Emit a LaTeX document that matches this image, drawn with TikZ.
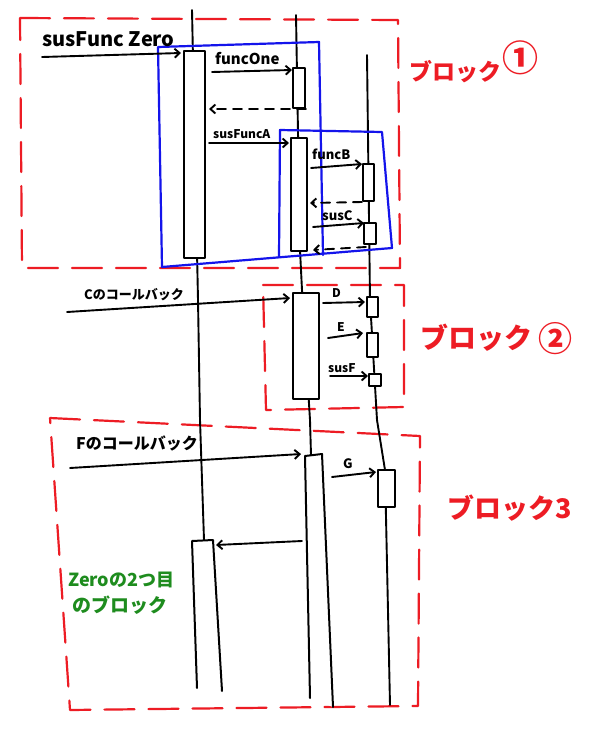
\documentclass[tikz,border=0pt]{standalone}
\usepackage{fontspec}
\setmainfont{Noto Sans CJK JP}
\usetikzlibrary{arrows.meta,calc}
\definecolor{hred}{RGB}{237,28,36}
\definecolor{hblue}{RGB}{20,20,235}
\definecolor{hgreen}{RGB}{30,140,30}
\newcommand{\fs}[1]{\fontsize{#1}{#1}\selectfont\bfseries}
\begin{document}
\begin{tikzpicture}[x=1pt,y=-1pt,
  line join=round, line cap=round,
  life/.style={line width=1.9pt},
  act/.style={draw, line width=2pt, fill=white, inner sep=0pt, anchor=north west},
  msg/.style={line width=1.9pt,-{Straight Barb[length=5pt,width=9pt]}},
  ret/.style={msg, dash pattern=on 9pt off 7pt},
  lbl/.style={anchor=base west, inner sep=0pt},
  blk/.style={hred, line width=2.2pt, dash pattern=on 30pt off 14pt},
  grp/.style={hblue, line width=2.2pt},
  rlbl/.style={hred, anchor=base west, inner sep=0pt},
]
\useasboundingbox (0,0) rectangle (600,734);
\fill[white] (0,0) rectangle (600,734);

% red dashed blocks
\draw[blk] (20,18) -- (398,20) -- (400,268) -- (22,268) -- cycle;
\draw[blk] (263,285) -- (404,285) -- (404,407) -- (266,410) -- cycle;
\draw[blk] (50,418) -- (420,436) -- (418,706) -- (70,710) -- cycle;

% lifelines
\coordinate (l1top) at (192,10);
\coordinate (l2top) at (296,15);
\coordinate (l3top) at (367,55);
\draw[life] (l1top) -- (198,300) -- (200,420) -- (204,540);
\draw[life] (l2top) -- (300,250) -- (302,290) -- (310,420) -- (311,455);
\draw[life] (l3top) -- (370,300) -- (377,420) -- (385,470) -- (390,705);

% activation boxes
\node[act, minimum width=21pt, minimum height=207pt] (zero) at (183,50) {};
\node[act, minimum width=12pt, minimum height=40pt] (one) at (292,67) {};
\node[act, minimum width=16pt, minimum height=113pt] (A) at (290,137) {};
\node[act, minimum width=11pt, minimum height=37pt] (B) at (362,163) {};
\node[act, minimum width=12pt, minimum height=21pt] (C) at (363,222) {};
\node[act, minimum width=26pt, minimum height=106pt] (cb) at (292,292) {};
\node[act, minimum width=11pt, minimum height=20pt] (D) at (366,296) {};
\node[act, minimum width=11pt, minimum height=24pt] (E) at (366,332) {};
\node[act, minimum width=12pt, minimum height=12pt] (F) at (368,373) {};
\node[act, minimum width=17pt, minimum height=37pt] (G) at (377,469) {};

% open-bottom boxes
\coordinate (fbTL) at (305,456);
\coordinate (fbTR) at (322,454);
\coordinate (fbBL) at (310,698);
\coordinate (fbBR) at (333,707);
\fill[white] (fbBL) -- (fbTL) -- (fbTR) -- (fbBR) -- cycle;
\draw[life, line width=2pt] (fbBL) -- (fbTL) -- (fbTR) -- (fbBR);
\coordinate (z2TL) at (192,541);
\coordinate (z2TR) at (213,540);
\coordinate (z2BL) at (197,688);
\coordinate (z2BR) at (222,691);
\fill[white] (z2BL) -- (z2TL) -- (z2TR) -- (z2BR) -- cycle;
\draw[life, line width=2pt] (z2BL) -- (z2TL) -- (z2TR) -- (z2BR);

% blue groups
\draw[grp] (323,255) -- (319,42) -- (158,47) -- (162,267) -- (392,248) -- (382,132) -- (280,130) -- (279,257);

% messages
\coordinate (m0s) at (42,57);
\draw[msg] (m0s) -- ($(zero.north west)+(-2,3)$);
\node[lbl, font=\fs{20}] (t0) at (42,46) {susFunc Zero};

\coordinate (m1s) at (212,72);
\draw[msg] (m1s) -- ($(one.north west)+(0,3)$);
\node[lbl, font=\fs{15}] (t1) at (215,64) {funcOne};
\draw[ret] (one.south east) -- ($(zero.north east)+(3,59)$);

\draw[msg] ($(zero.north east)+(3,93)$) -- ($(A.north west)+(-1,6)$);
\node[lbl, font=\fs{12}] (tA) at (213,138) {susFuncA};

\draw[msg] ($(A.north east)+(3,31)$) -- ($(B.north west)+(0,1)$);
\node[lbl, font=\fs{13}] (tB) at (312,159) {funcB};
\draw[ret] (B.south west) -- ($(A.north east)+(2,66)$);

\draw[msg] ($(A.north east)+(5,90)$) -- ($(C.north west)+(1,1)$);
\node[lbl, font=\fs{13}] (tC) at (322,220) {susC};
\draw[ret] ($(C.south west)+(3,2)$) -- ($(A.south east)+(5,-2)$);

\coordinate (cs) at (67,312);
\draw[msg] (cs) -- ($(cb.north west)+(-2,6)$);
\node[lbl, font=\fs{13}] (tcb) at (84,299) {Cのコールバック};

\draw[msg] ($(cb.north east)+(3,11)$) -- ($(D.north west)+(-1,6)$);
\node[lbl, font=\fs{12}] (tD) at (332,297) {D};
\draw[msg] ($(cb.north east)+(8,46)$) -- ($(E.north west)+(-3,1)$);
\node[lbl, font=\fs{12}] (tE) at (337,331) {E};
\draw[msg] ($(cb.north east)+(10,84)$) -- ($(F.north west)+(0,3)$);
\node[lbl, font=\fs{12}] (tF) at (328,372) {susF};

\coordinate (fs) at (70,468);
\draw[msg] (fs) -- ($(fbTL)+(-4,-2)$);
\node[lbl, font=\fs{16}] (tfb) at (76,449) {Fのコールバック};

\draw[msg] ($(fbTR)+(10,23)$) -- ($(G.north west)+(-1,3)$);
\node[lbl, font=\fs{13}] (tG) at (343,468) {G};

\draw[msg] ($(fbTL)+(-3,85)$) -- ($(z2TR)+(3,5)$);

% green note
\node[lbl, hgreen, font=\fs{18}] (g1) at (68,586) {Zeroの2つ目};
\node[lbl, hgreen, font=\fs{19}] (g2) at (72,612) {のブロック};

% block labels
\node[rlbl, font=\fs{23}] (b1) at (409,80) {ブロック};
\node[hred, font=\fs{36}, inner sep=0pt] (b1n) at (520,58) {①};
\node[rlbl, font=\fs{28}] (b2) at (420,348) {ブロック};
\node[hred, font=\fs{34}, inner sep=0pt] (b2n) at (555,339) {②};
\node[rlbl, font=\fs{27}] (b3) at (447,518) {ブロック3};
\end{tikzpicture}
\end{document}
